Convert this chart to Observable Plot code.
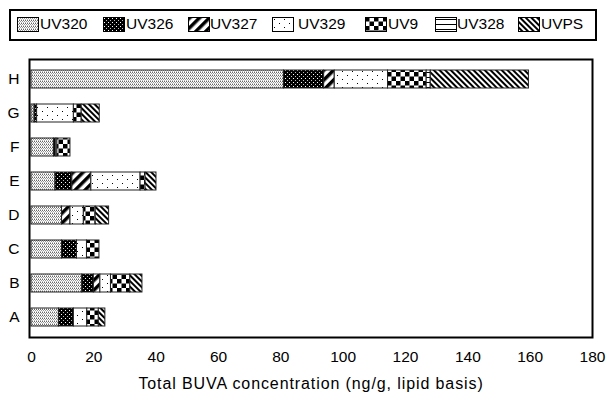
<!DOCTYPE html>
<html><head><meta charset="utf-8">
<script src="https://cdn.jsdelivr.net/npm/d3@7"></script>
<script src="https://cdn.jsdelivr.net/npm/@observablehq/plot@0.6"></script>
<style>
body{margin:0;background:#fff;font-family:"Liberation Sans",Arial,sans-serif;color:#000;}
#legend{position:relative;width:608px;height:45px;}
#legend .box{position:absolute;left:9px;top:9px;width:588px;height:32px;border:2px solid #000;box-sizing:border-box;}
#legend .sw{position:absolute;top:17px;}
#legend .lb{position:absolute;top:15px;font-size:15.5px;line-height:18px;white-space:nowrap;}
#chart g[aria-label="text"] text{letter-spacing:0.9px;}
</style></head><body>
<svg width="0" height="0" style="position:absolute">
<defs>
<pattern id="p-UV320" width="2" height="3" patternUnits="userSpaceOnUse"><rect width="2" height="3" fill="#fff"/><rect x="0" y="0" width="1" height="1" fill="#666"/><rect x="1" y="1" width="1" height="1" fill="#999"/><rect x="0" y="2" width="1" height="1" fill="#bbb"/></pattern>
<pattern id="p-UV326" width="4" height="4" patternUnits="userSpaceOnUse"><rect width="4" height="4" fill="#000"/><rect x="1" y="1" width="1" height="1" fill="#fff"/><rect x="3" y="3" width="1" height="1" fill="#bbb"/></pattern>
<pattern id="p-UV327" width="7" height="7" patternUnits="userSpaceOnUse" patternTransform="rotate(45)"><rect width="7" height="7" fill="#fff"/><rect width="3.5" height="7" fill="#000"/></pattern>
<pattern id="p-UV329" width="10" height="8" patternUnits="userSpaceOnUse"><rect width="10" height="8" fill="#fff"/><rect x="2" y="2" width="1" height="1" fill="#000"/><rect x="7" y="6" width="1" height="1" fill="#000"/></pattern>
<pattern id="p-UV9" width="9" height="9" patternUnits="userSpaceOnUse"><rect width="9" height="9" fill="#fff"/><rect x="0" y="0" width="4.5" height="4.5" fill="#000"/><rect x="4.5" y="4.5" width="4.5" height="4.5" fill="#000"/></pattern>
<pattern id="p-UV328" width="5" height="5" patternUnits="userSpaceOnUse"><rect width="5" height="5" fill="#fff"/><rect x="0" y="2" width="5" height="1" fill="#000"/></pattern>
<pattern id="p-UVPS" width="4" height="4" patternUnits="userSpaceOnUse" patternTransform="rotate(-45)"><rect width="4" height="4" fill="#fff"/><rect width="2" height="4" fill="#000"/></pattern>
</defs></svg>
<div id="legend"><div class="box"></div></div>
<div id="chart"></div>
<script>
// ---- data ----
const sites = ["A", "B", "C", "D", "E", "F", "G", "H"];
const uv320 = [8.8, 16.3, 9.8, 9.8, 7.7, 7.2, 1.0, 81.0];
const uv326 = [4.8, 3.7, 4.8, 0, 5.4, 0.6, 0.8, 12.9];
const uv327 = [0, 2.1, 0, 2.7, 6.1, 0, 0, 3.4];
const uv329 = [4.3, 3.4, 3.2, 4.3, 15.8, 0.5, 11.8, 17.1];
const uv9 = [3.7, 6.2, 4.0, 3.8, 1.6, 4.2, 2.5, 12.4];
const uv328 = [0, 0, 0, 0, 0, 0, 0, 1.3];
const uvps = [2.1, 3.9, 0, 4.3, 3.5, 0, 5.8, 31.5];
const seriesNames = ["UV320", "UV326", "UV327", "UV329", "UV9", "UV328", "UVPS"];
const xTicks = [0, 20, 40, 60, 80, 100, 120, 140, 160, 180];
const xTitle = "Total BUVA concentration (ng/g, lipid basis)";

const seriesValues = [uv320, uv326, uv327, uv329, uv9, uv328, uvps];
const rows = [];
sites.forEach((s, i) => {
  seriesNames.forEach((n, j) => {
    const v = seriesValues[j][i];
    if (v > 0) rows.push({site: s, series: n, value: v});
  });
});

// ---- legend ----
const legendX = [17, 103, 188, 272, 365, 435, 518];
const legendTextX = [40, 126, 210, 298, 388, 457, 541];
const legend = document.getElementById("legend");
seriesNames.forEach((n, j) => {
  const sw = document.createElementNS("http://www.w3.org/2000/svg", "svg");
  sw.setAttribute("width", 22); sw.setAttribute("height", 15);
  sw.setAttribute("class", "sw");
  sw.style.left = legendX[j] + "px";
  sw.innerHTML = `<rect x="0.5" y="0.5" width="21" height="14" fill="url(#p-${n})" stroke="#000" stroke-width="1"/>`;
  legend.appendChild(sw);
  const t = document.createElement("div");
  t.className = "lb"; t.textContent = n; t.style.left = legendTextX[j] + "px";
  legend.appendChild(t);
});

// ---- chart ----
const chart = Plot.plot({
  width: 608, height: 358,
  marginLeft: 29, marginRight: 16, marginTop: 14, marginBottom: 66,
  style: {fontFamily: "Liberation Sans, Arial, sans-serif", fontSize: "15.5px", color: "#000", background: "#fff", overflow: "visible"},
  x: {domain: [0, 180], insetLeft: 2, ticks: xTicks, tickSize: 0, tickPadding: 13, label: null},
  y: {domain: sites.slice().reverse(), padding: 0, tickSize: 0, tickPadding: 10, label: null},
  color: {type: "identity"},
  marks: [
    Plot.barX(rows, {x: "value", y: "site", z: "series", fill: d => `url(#p-${d.series})`, stroke: "#222", strokeWidth: 1, insetTop: 8, insetBottom: 8}),
    Plot.frame({stroke: "#000", strokeWidth: 2}),
    Plot.text([xTitle], {text: d => d, frameAnchor: "bottom", lineAnchor: "top", dy: 40, fontSize: 16})
  ]
});
document.getElementById("chart").appendChild(chart);
</script>
</body></html>
